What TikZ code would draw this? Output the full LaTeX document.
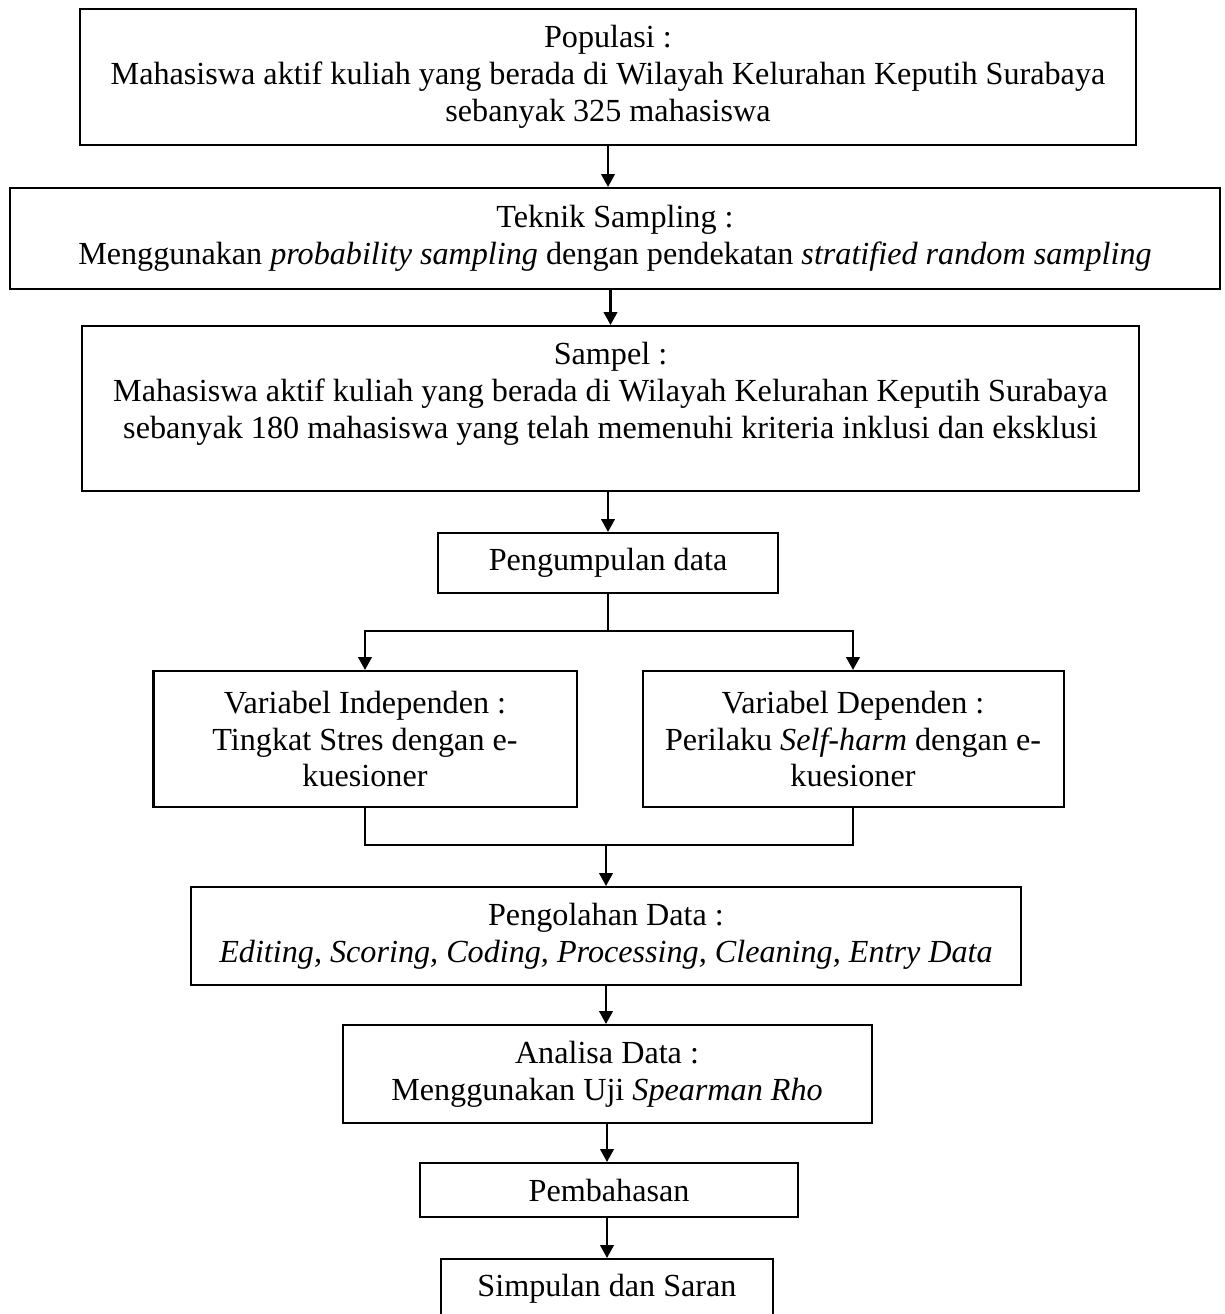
\documentclass[tikz,border=0pt,12pt]{standalone}
\usepackage{fontspec}
\setmainfont{Liberation Serif}
\usepackage{tikz}
\usetikzlibrary{arrows.meta}
\newcommand{\pxu}{0.3731pt}

\begin{document}
\begin{tikzpicture}[x=\pxu,y=-\pxu,>={Triangle[length=4.8pt,width=5pt]},
    box/.style={rectangle, draw, line width=0.75pt, align=center, inner sep=0pt, font=\fontsize{12}{13.8}\selectfont},
    link/.style={->, line width=0.9pt}]
      \useasboundingbox (0,0) rectangle (1224,1314);

      \node (pop) [box, minimum width=1056*\pxu, minimum height=136*\pxu] at (608,77) {Populasi :\\ Mahasiswa aktif kuliah yang berada di Wilayah Kelurahan Keputih Surabaya\\ sebanyak 325 mahasiswa};
      \node (teknik) [box, minimum width=1210*\pxu, minimum height=101*\pxu] at (615,238.5) {Teknik Sampling :\\ Menggunakan \textit{probability sampling} dengan pendekatan \textit{stratified random sampling}};
      \node (sampel) [box, minimum width=1057*\pxu, minimum height=165*\pxu] at (610.5,408.5) {Sampel :\\ Mahasiswa aktif kuliah yang berada di Wilayah Kelurahan Keputih Surabaya\\ sebanyak 180 mahasiswa yang telah memenuhi kriteria inklusi dan eksklusi\\ \mbox{}};
      \node (kumpul) [box, minimum width=340*\pxu, minimum height=60*\pxu] at (608,563) {Pengumpulan data};
      \node (indep) [box, minimum width=423*\pxu, minimum height=136*\pxu] at (365,739) {Variabel Independen :\\ Tingkat Stres dengan e-\\ kuesioner};
      \node (dep) [box, minimum width=421*\pxu, minimum height=136*\pxu] at (853,739) {Variabel Dependen :\\ Perilaku \textit{Self-harm} dengan e-\\ kuesioner};
      \node (olah) [box, minimum width=830*\pxu, minimum height=98*\pxu] at (606,936) {Pengolahan Data :\\ \textit{Editing, Scoring, Coding, Processing, Cleaning, Entry Data}};
      \node (analisa) [box, minimum width=529*\pxu, minimum height=98*\pxu] at (607,1074) {Analisa Data :\\ Menggunakan Uji \textit{Spearman Rho}};
      \node (bahas) [box, minimum width=378*\pxu, minimum height=54*\pxu] at (609,1190) {Pembahasan};
      \node (simpul) [box, minimum width=332*\pxu, minimum height=60*\pxu] at (607,1289) {Simpulan dan Saran};

      \coordinate (cabang) at (608,631);
      \coordinate (gabung) at (606,845);

      \draw[link] (pop.south) -- (pop.south |- teknik.north);
      \draw[link] (sampel.north |- teknik.south) -- (sampel.north);
      \draw[link] (kumpul.north |- sampel.south) -- (kumpul.north);
      \draw[line width=0.5pt] (kumpul.south) -- (cabang);
      \draw[link] (cabang) -| (indep.north);
      \draw[link] (cabang) -| (dep.north);
      \draw[line width=0.6pt] (indep.south) |- (gabung);
      \draw[line width=0.9pt] (gabung) -| (dep.south);
      \draw[link] (gabung) -- (olah.north);
      \draw[link] (olah.south) -- (olah.south |- analisa.north);
      \draw[link] (analisa.south) -- (analisa.south |- bahas.north);
      \draw[link] (analisa.south |- bahas.south) -- (analisa.south |- simpul.north);
    \end{tikzpicture}
\end{document}
